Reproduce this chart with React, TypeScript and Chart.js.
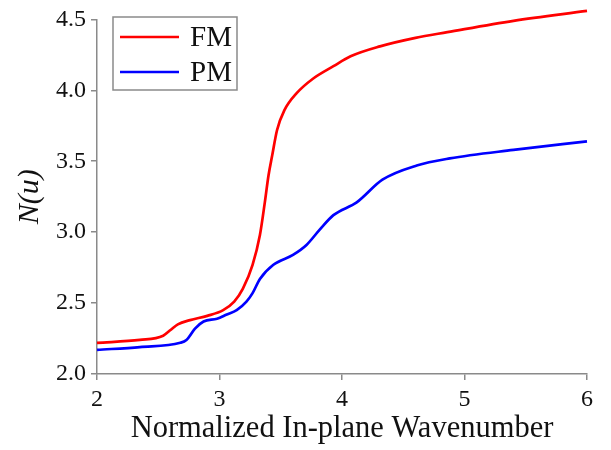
import React, { useEffect, useRef } from "react";
import { Chart, registerables } from "chart.js";

Chart.register(...registerables);

const fmX = [2.0, 2.35, 2.54, 2.6, 2.66, 2.76, 2.9, 3.03, 3.12, 3.19, 3.27, 3.33, 3.37, 3.4, 3.43, 3.47, 3.53, 3.63, 3.76, 3.93, 4.07, 4.31, 4.6, 4.86, 5.4, 6.0];
const fmY = [2.22, 2.24, 2.27, 2.31, 2.35, 2.38, 2.41, 2.45, 2.51, 2.6, 2.77, 2.98, 3.21, 3.4, 3.54, 3.72, 3.86, 3.98, 4.08, 4.17, 4.24, 4.31, 4.37, 4.41, 4.49, 4.56];

const pmX = [2.0, 2.35, 2.68, 2.73, 2.8, 2.87, 2.98, 3.06, 3.14, 3.22, 3.27, 3.33, 3.44, 3.6, 3.71, 3.82, 3.93, 4.12, 4.33, 4.61, 4.88, 5.4, 6.0];
const pmY = [2.17, 2.19, 2.22, 2.24, 2.32, 2.37, 2.39, 2.42, 2.45, 2.51, 2.57, 2.67, 2.77, 2.84, 2.91, 3.02, 3.12, 3.21, 3.37, 3.47, 3.52, 3.58, 3.64];

const seriesLabels = ["FM", "PM"];
const seriesColors = ["#ff0000", "#0000ff"];
const xTitle = "Normalized In-plane Wavenumber";
const yTitle = "N(u)";

const FONT = "'Liberation Serif', serif";
const AXIS_COLOR = "#8a8a8a";

const legendBox = {
  id: "legendBox",
  afterDraw(chart: any) {
    const ctx = chart.ctx;
    ctx.save();
    ctx.strokeStyle = AXIS_COLOR;
    ctx.lineWidth = 1.5;
    ctx.strokeRect(113, 17, 124, 73);
    const rows = [37, 72];
    chart.data.datasets.forEach((ds: any, i: number) => {
      ctx.strokeStyle = ds.borderColor;
      ctx.lineWidth = 2.5;
      ctx.beginPath();
      ctx.moveTo(120, rows[i]);
      ctx.lineTo(179, rows[i]);
      ctx.stroke();
      ctx.fillStyle = "#111";
      ctx.font = `29px ${FONT}`;
      ctx.textBaseline = "middle";
      ctx.textAlign = "left";
      ctx.fillText(ds.label, 190, rows[i] + 1);
    });
    ctx.restore();
  },
};

export default function App() {
  const ref = useRef<HTMLCanvasElement | null>(null);
  useEffect(() => {
    if (!ref.current) return;
    const chart = new Chart(ref.current, {
      type: "scatter",
      data: {
        datasets: [
          {
            label: seriesLabels[0],
            data: fmX.map((x, i) => ({ x, y: fmY[i] })),
            borderColor: seriesColors[0],
            backgroundColor: seriesColors[0],
            showLine: true,
            pointRadius: 0,
            borderWidth: 2.7,
            cubicInterpolationMode: "monotone",
            clip: false,
          },
          {
            label: seriesLabels[1],
            data: pmX.map((x, i) => ({ x, y: pmY[i] })),
            borderColor: seriesColors[1],
            backgroundColor: seriesColors[1],
            showLine: true,
            pointRadius: 0,
            borderWidth: 2.7,
            cubicInterpolationMode: "monotone",
            clip: false,
          },
        ],
      },
      options: {
        animation: false,
        responsive: false,
        layout: { padding: { top: 15, right: 24, left: 0, bottom: 0 } },
        plugins: { legend: { display: false }, tooltip: { enabled: false } },
        scales: {
          x: {
            type: "linear",
            min: 2,
            max: 6,
            afterFit: (s: any) => {
              s.height = 76;
            },
            ticks: {
              stepSize: 1,
              color: "#111",
              font: { family: FONT, size: 24 },
              padding: 5,
            },
            grid: { drawOnChartArea: false, drawTicks: true, tickLength: 6, color: AXIS_COLOR, lineWidth: 1.5 },
            border: { color: AXIS_COLOR, width: 1.5 },
            title: {
              display: true,
              text: xTitle,
              color: "#111",
              font: { family: FONT, size: 30.5 },
              padding: { top: 0, bottom: 3 },
            },
          },
          y: {
            type: "linear",
            min: 2,
            max: 4.5,
            afterFit: (s: any) => {
              s.width = 97;
            },
            ticks: {
              stepSize: 0.5,
              color: "#111",
              font: { family: FONT, size: 24 },
              padding: 5,
              callback: (v: any) => Number(v).toFixed(1),
            },
            grid: { drawOnChartArea: false, drawTicks: true, tickLength: 6, color: AXIS_COLOR, lineWidth: 1.5 },
            border: { color: AXIS_COLOR, width: 1.5 },
            title: {
              display: true,
              text: yTitle,
              color: "#111",
              font: { family: FONT, size: 30, style: "italic" },
              padding: { top: 12, bottom: 0 },
            },
          },
        },
      },
      plugins: [legendBox],
    });
    return () => chart.destroy();
  }, []);
  return (
    <div style={{ position: "fixed", left: 0, top: 0, width: 611, height: 450, background: "#fff" }}>
      <canvas ref={ref} width={611} height={450} />
    </div>
  );
}
